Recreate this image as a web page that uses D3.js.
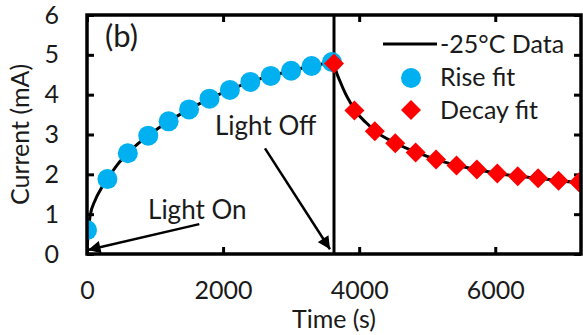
<!DOCTYPE html>
<html>
<head>
<meta charset="utf-8">
<script src="https://cdn.jsdelivr.net/npm/d3@7"></script>
<style>
  body { margin: 0; background: #fff; }
  text { font-family: Lato, "Open Sans", sans-serif; fill: #1a1a1a; }
</style>
</head>
<body>
<div class="container"></div>
<script>
// measured trace (-25°C)
const dataTime    = [0, 15, 45, 120, 200, 300, 450, 600, 750, 900, 1200, 1500, 1800, 2100, 2400, 2700, 3000, 3300, 3630,
                     3660, 3720, 3800, 3870, 3940, 4100, 4240, 4540, 4840, 5140, 5440, 5740, 6040, 6340, 6640, 6940, 7260];
const dataCurrent = [0.1, 0.5, 0.95, 1.35, 1.62, 1.88, 2.25, 2.53, 2.77, 2.97, 3.33, 3.63, 3.9, 4.12, 4.32, 4.47, 4.6, 4.72, 4.82,
                     4.6, 4.33, 4.02, 3.8, 3.6, 3.3, 3.08, 2.78, 2.55, 2.37, 2.22, 2.12, 2.02, 1.95, 1.9, 1.84, 1.79];
// fits
const riseTime     = [0, 300, 600, 900, 1200, 1500, 1800, 2100, 2400, 2700, 3000, 3300, 3600];
const riseCurrent  = [0.6, 1.88, 2.53, 2.97, 3.33, 3.63, 3.9, 4.12, 4.32, 4.47, 4.6, 4.72, 4.82];
const decayTime    = [3630, 3930, 4230, 4530, 4830, 5130, 5430, 5730, 6030, 6330, 6630, 6930, 7230];
const decayCurrent = [4.78, 3.6, 3.08, 2.78, 2.55, 2.37, 2.22, 2.12, 2.02, 1.95, 1.9, 1.84, 1.8];
const lightOff = 3630;
const xTicks = [0, 2000, 4000, 6000];
const yTicks = [0, 1, 2, 3, 4, 5, 6];

const width = 583, height = 335;
const margin = {left: 87, right: 2, top: 15, bottom: 81};
const svg = d3.select(".container")
              .append("svg")
              .attr("width", width)
              .attr("height", height);

const x = d3.scaleLinear().domain([0, 7260]).range([margin.left, width - margin.right]);
const y = d3.scaleLinear().domain([0, 6]).range([height - margin.bottom, margin.top]);
const fs = 25;

// axes, ticks inside
const ax = (g, axis) => {
    g.call(axis);
    g.select(".domain").remove();
    g.selectAll(".tick line").attr("stroke", "#000").attr("stroke-width", 3);
    g.selectAll("text").style("font-size", fs + "px").attr("fill", "#1a1a1a")
     .style("font-family", "Lato, 'Open Sans', sans-serif");
};
svg.append("g").attr("transform", `translate(0,${y(0)})`)
   .call(g => ax(g, d3.axisBottom(x).tickValues(xTicks).tickSize(-7).tickPadding(27).tickFormat(d3.format("d"))));
svg.append("g").attr("transform", `translate(0,${y(6)})`)
   .call(g => ax(g, d3.axisTop(x).tickValues(xTicks).tickSize(-7).tickFormat("")));
svg.append("g").attr("transform", `translate(${x(0)},0)`)
   .call(g => ax(g, d3.axisLeft(y).tickValues(yTicks).tickSize(-7).tickPadding(28).tickFormat(d3.format("d"))));
svg.append("g").attr("transform", `translate(${x.range()[1]},0)`)
   .call(g => ax(g, d3.axisRight(y).tickValues(yTicks).tickSize(-7).tickFormat("")));

// axis titles
svg.append("text")
   .attr("x", (x.range()[0] + x.range()[1]) / 2)
   .attr("y", 328)
   .attr("text-anchor", "middle")
   .style("font-size", fs + "px")
   .text("Time (s)");
svg.append("text")
   .attr("transform", `translate(29,${(y(0) + y(6)) / 2}) rotate(-90)`)
   .attr("text-anchor", "middle")
   .style("font-size", fs + "px")
   .text("Current (mA)");

svg.append("clipPath").attr("id", "clip")
   .append("rect")
   .attr("x", x.range()[0]).attr("y", y(6))
   .attr("width", x.range()[1] - x.range()[0])
   .attr("height", y(0) - y(6));

const plot = svg.append("g").attr("clip-path", "url(#clip)");

// measured line, split at light off so the peak stays sharp
const pts = dataTime.map((t, i) => [t, dataCurrent[i]]);
const line = d3.line().x(d => x(d[0])).y(d => y(d[1])).curve(d3.curveMonotoneX);
[pts.filter(d => d[0] <= lightOff), pts.filter(d => d[0] >= lightOff)].forEach(seg => {
    plot.append("path")
        .attr("d", line(seg))
        .attr("fill", "none")
        .attr("stroke", "#000")
        .attr("stroke-width", 3);
});

// light off vertical line
plot.append("line")
    .attr("x1", x(lightOff)).attr("x2", x(lightOff))
    .attr("y1", y(0)).attr("y2", y(6))
    .attr("stroke", "#000")
    .attr("stroke-width", 3);

const diamond = d3.symbol(d3.symbolSquare, 200);

plot.selectAll("circle.rise")
    .data(riseTime.map((t, i) => [t, riseCurrent[i]]))
    .join("circle")
    .attr("class", "rise")
    .attr("cx", d => x(d[0]))
    .attr("cy", d => y(d[1]))
    .attr("r", 10)
    .attr("fill", "#00B0F0");

plot.selectAll("path.decay")
    .data(decayTime.map((t, i) => [t, decayCurrent[i]]))
    .join("path")
    .attr("class", "decay")
    .attr("d", diamond)
    .attr("transform", d => `translate(${x(d[0])},${y(d[1])}) rotate(45)`)
    .attr("fill", "#FF0000");

// frame
svg.append("rect")
   .attr("x", x.range()[0]).attr("y", y(6))
   .attr("width", x.range()[1] - x.range()[0])
   .attr("height", y(0) - y(6))
   .attr("fill", "none")
   .attr("stroke", "#000")
   .attr("stroke-width", 3.5);

// annotations
svg.append("defs").append("marker")
   .attr("id", "arrow")
   .attr("viewBox", "0 0 10 10")
   .attr("refX", 10).attr("refY", 5)
   .attr("markerWidth", 6).attr("markerHeight", 5)
   .attr("markerUnits", "strokeWidth")
   .attr("orient", "auto")
   .append("path")
   .attr("d", "M0,0L10,5L0,10Z")
   .attr("fill", "#000");

const arrows = [
    [[1650, 0.75], [15, 0.1]],
    [[2616, 2.65], [3571, 0.12]]
];
svg.selectAll("line.arrow")
   .data(arrows)
   .join("line")
   .attr("class", "arrow")
   .attr("x1", d => x(d[0][0])).attr("y1", d => y(d[0][1]))
   .attr("x2", d => x(d[1][0])).attr("y2", d => y(d[1][1]))
   .attr("stroke", "#000")
   .attr("stroke-width", 2.5)
   .attr("marker-end", "url(#arrow)");

const notes = [
    {t: 265, c: 5.2, label: "(b)", size: 31},
    {t: 1881, c: 2.975, label: "Light Off", size: 26},
    {t: 897, c: 0.875, label: "Light On", size: 26}
];
svg.selectAll("text.note")
   .data(notes)
   .join("text")
   .attr("class", "note")
   .attr("x", d => x(d.t))
   .attr("y", d => y(d.c))
   .style("font-size", d => d.size + "px")
   .text(d => d.label);

// legend
const lg = svg.append("g");
lg.append("line")
  .attr("x1", 383).attr("x2", 437).attr("y1", 44).attr("y2", 44)
  .attr("stroke", "#000").attr("stroke-width", 3);
lg.append("circle").attr("cx", 411).attr("cy", 78).attr("r", 10).attr("fill", "#00B0F0");
lg.append("path").attr("d", diamond).attr("transform", "translate(411,110) rotate(45)").attr("fill", "#FF0000");
lg.selectAll("text")
  .data(["-25°C Data", "Rise fit", "Decay fit"])
  .join("text")
  .attr("x", 440)
  .attr("y", (d, i) => 53 + i * 33)
  .style("font-size", 25 + "px")
  .text(d => d);
</script>
</body>
</html>
